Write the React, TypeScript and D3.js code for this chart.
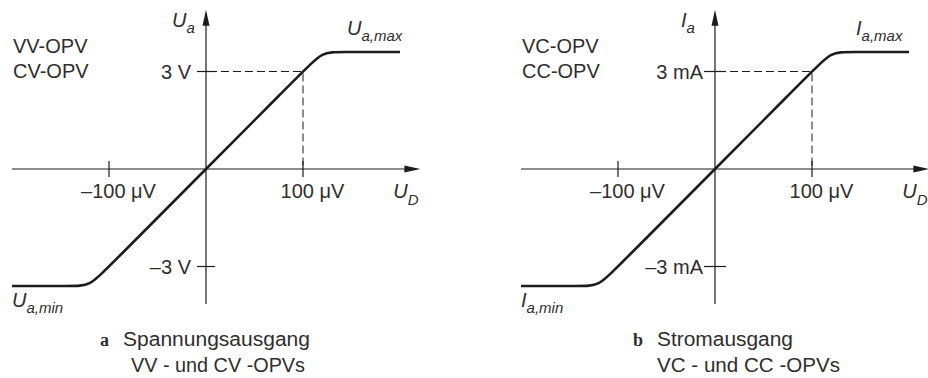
import React from "react";
import * as d3 from "d3";

// Transfer characteristic of an op-amp output stage (input U_D in µV)
const inputUD = [-200, -138, -120, -102, 102, 120, 138, 200];
const outputLevel = [-3.6, -3.6, -3.6, -3.06, 3.06, 3.6, 3.6, 3.6];

const xTickValues = [-100, 100];
const xTickLabels = ["\u2013100 \u03bcV", "100 \u03bcV"];
const yTickValues = [-3, 3];
const yTickLabelsA = ["\u20133 V", "3 V"];
const yTickLabelsB = ["\u20133 mA", "3 mA"];

const panelTitlesA = ["VV-OPV", "CV-OPV"];
const panelTitlesB = ["VC-OPV", "CC-OPV"];

const W = 928;
const H = 378;
const INK = "#1c1c1c";
const TEXT = "#2e2e2e";
const SANS = "'Liberation Sans', Arial, Helvetica, sans-serif";
const FS = 20;
const SUB = 15;

type PanelProps = {
  dx: number;
  yVar: string;
  titles: string[];
  yLabels: string[];
  letter: string;
  caption1: string;
  caption2: string;
  yTickOuter: number;
  yLabelGap: number;
  letterX: number;
  cap1X: number;
  cap2X: number;
  cap1W: number;
  cap2W: number;
};

function Panel(p: PanelProps) {
  const x = d3.scaleLinear().domain([-100, 100]).range([109, 303]);
  const y = d3.scaleLinear().domain([-3, 3]).range([266.5, 71.5]);
  const x0 = x(0);
  const y0 = y(0);

  const line = d3
    .line<number>()
    .x((_, i) => x(inputUD[i]))
    .y((_, i) => y(outputLevel[i]))
    .curve(d3.curveBasis);
  const pts = inputUD.map((_, i) => i);

  const xAxisStart = x(-200);
  const xAxisEnd = x(221);
  const yAxisTop = y(4.9);
  const yAxisBottom = y(-4.15);

  const xSat = x(200);
  const ySatTop = y(3.6);
  const ySatBot = y(-3.6);

  return (
    <g transform={`translate(${p.dx},0)`}>
      {/* axes */}
      <line x1={xAxisStart} x2={xAxisEnd - 12} y1={y0} y2={y0} stroke={INK} strokeWidth={1.2} />
      <path
        d={`M${xAxisEnd},${y0} L${xAxisEnd - 16},${y0 - 3.5} L${xAxisEnd - 16},${y0 + 3.5} Z`}
        fill={INK}
      />
      <line x1={x0} x2={x0} y1={yAxisBottom} y2={yAxisTop + 12} stroke={INK} strokeWidth={1.2} />
      <path
        d={`M${x0},${yAxisTop} L${x0 - 3.5},${yAxisTop + 16} L${x0 + 3.5},${yAxisTop + 16} Z`}
        fill={INK}
      />

      {/* x ticks */}
      {xTickValues.map((v, i) => (
        <g key={`xt${i}`}>
          <line x1={x(v)} x2={x(v)} y1={y0 - 8} y2={y0 + 8} stroke={INK} strokeWidth={1.2} />
          <text
            x={x(v) + 9.5}
            y={y0 + 29}
            textAnchor="middle"
            fontFamily={SANS}
            fontSize={FS}
            fill={TEXT}
          >
            {xTickLabels[i]}
          </text>
        </g>
      ))}

      {/* y ticks */}
      {yTickValues.map((v, i) => (
        <g key={`yt${i}`}>
          <line
            x1={x0 - p.yTickOuter}
            x2={x0 + p.yTickOuter}
            y1={y(v)}
            y2={y(v)}
            stroke={INK}
            strokeWidth={1.2}
          />
          <text
            x={x0 - p.yTickOuter - p.yLabelGap}
            y={y(v) + 7}
            textAnchor="end"
            fontFamily={SANS}
            fontSize={FS}
            fill={TEXT}
          >
            {p.yLabels[i]}
          </text>
        </g>
      ))}

      {/* guide lines at the linear limit */}
      <path
        d={`M${x0 + 3},${y(3)} H${x(100)} V${y0 - 2}`}
        fill="none"
        stroke={INK}
        strokeWidth={1}
        strokeDasharray="8,4"
      />

      {/* characteristic */}
      <path
        d={line(pts) ?? ""}
        fill="none"
        stroke={INK}
        strokeWidth={2.6}
        strokeLinejoin="round"
      />

      {/* axis names */}
      <text x={x0 - 34} y={27} fontFamily={SANS} fontSize={FS} fontStyle="italic" fill={TEXT}>
        {p.yVar}
        <tspan fontSize={SUB} dy={6}>a</tspan>
      </text>
      <text x={x(192) + 1} y={198} fontFamily={SANS} fontSize={FS} fontStyle="italic" fill={TEXT}>
        U
        <tspan fontSize={SUB} dy={7}>D</tspan>
      </text>
      <text x={xSat - 53} y={ySatTop - 17} fontFamily={SANS} fontSize={FS} fontStyle="italic" fill={TEXT}>
        {p.yVar}
        <tspan fontSize={SUB} dy={6}>a,max</tspan>
      </text>
      <text x={xAxisStart} y={ySatBot + 21} fontFamily={SANS} fontSize={FS} fontStyle="italic" fill={TEXT}>
        {p.yVar}
        <tspan fontSize={SUB} dy={6}>a,min</tspan>
      </text>

      {/* panel titles */}
      {p.titles.map((t, i) => (
        <text key={t} x={xAxisStart + 1} y={53 + i * 25} fontFamily={SANS} fontSize={FS} fill={TEXT}>
          {t}
        </text>
      ))}

      {/* caption */}
      <text
        x={p.letterX}
        y={346}
        fontFamily="'Liberation Serif', 'Times New Roman', serif"
        fontWeight="bold"
        fontSize={18}
        fill={TEXT}
      >
        {p.letter}
      </text>
      <text
        x={p.cap1X}
        y={346}
        fontFamily={SANS}
        fontSize={FS}
        fill={TEXT}
        textLength={p.cap1W}
        lengthAdjust="spacingAndGlyphs"
      >
        {p.caption1}
      </text>
      <text
        x={p.cap2X}
        y={371.5}
        fontFamily={SANS}
        fontSize={FS}
        fill={TEXT}
        textLength={p.cap2W}
        lengthAdjust="spacingAndGlyphs"
      >
        {p.caption2}
      </text>
    </g>
  );
}

export default function App() {
  return (
    <svg
      width={W}
      height={H}
      viewBox={`0 0 ${W} ${H}`}
      style={{ position: "absolute", left: 0, top: 0, background: "#fff" }}
    >
      <rect width={W} height={H} fill="#fff" />
      <Panel
        dx={0}
        yVar="U"
        titles={panelTitlesA}
        yLabels={yTickLabelsA}
        letter="a"
        caption1="Spannungsausgang"
        caption2="VV - und CV -OPVs"
        yTickOuter={9}
        yLabelGap={6}
        letterX={100}
        cap1X={123}
        cap2X={131}
        cap1W={187}
        cap2W={174}
      />
      <Panel
        dx={509}
        yVar="I"
        titles={panelTitlesB}
        yLabels={yTickLabelsB}
        letter="b"
        caption1="Stromausgang"
        caption2="VC - und CC -OPVs"
        yTickOuter={11}
        yLabelGap={1}
        letterX={124}
        cap1X={148}
        cap2X={148}
        cap1W={136}
        cap2W={183}
      />
    </svg>
  );
}
